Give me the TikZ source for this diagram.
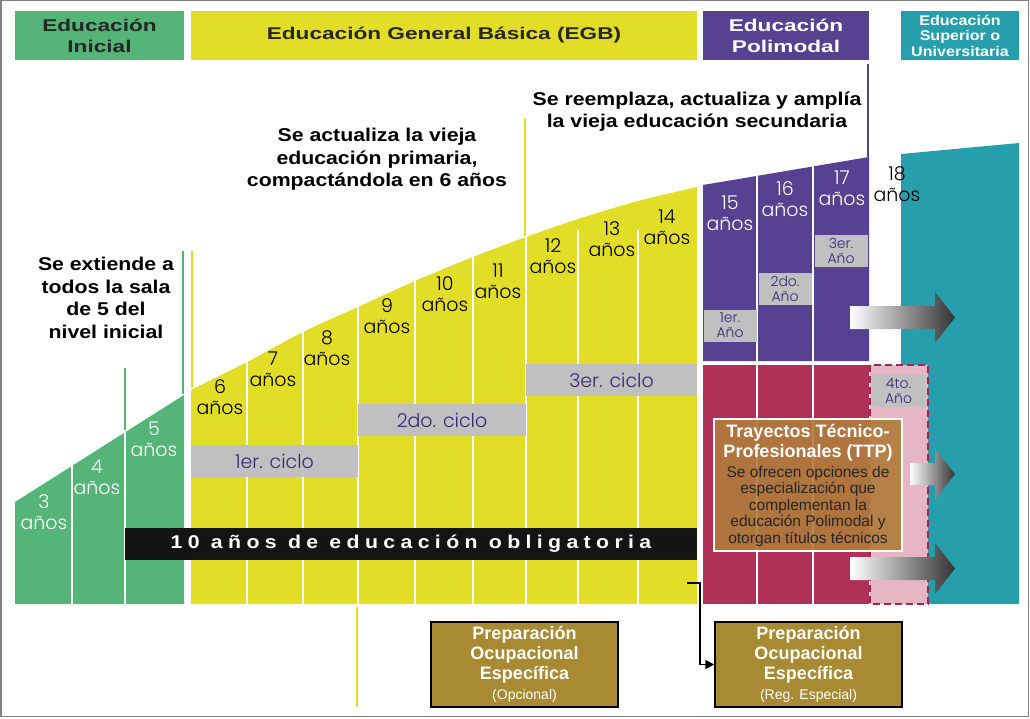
\documentclass[tikz,border=0pt]{standalone}
\usepackage{fontspec}
\setmainfont{Liberation Sans}
\newfontfamily\anchafont{Liberation Sans}[FakeStretch=1.33]
\newfontfamily\notafont{Liberation Sans}[FakeStretch=1.15]
\newfontfamily\barrafont{Liberation Sans}[FakeStretch=1.15,LetterSpace=29]
\newfontfamily\edadfont{Poppins Light}
\usetikzlibrary{arrows.meta}
\definecolor{inicial}{RGB}{85,180,120}
\definecolor{egb}{RGB}{226,222,40}
\definecolor{polimodal}{RGB}{86,66,144}
\definecolor{superior}{RGB}{38,158,172}
\definecolor{ttp}{RGB}{176,48,88}
\definecolor{gris}{RGB}{192,192,192}
\definecolor{azul}{RGB}{50,40,120}
\definecolor{cuarto}{RGB}{230,182,196}
\definecolor{borde}{RGB}{160,40,80}
\definecolor{oro}{RGB}{168,138,50}
\definecolor{marron}{RGB}{176,124,60}
\begin{document}
\begin{tikzpicture}[x=1pt,y=-1pt,
  cabecera/.style={inner sep=0pt, align=center, minimum height=49pt, font=\anchafont\bfseries\fontsize{17}{21}\selectfont},
  nota/.style={align=center, inner sep=0pt, font=\notafont\bfseries\fontsize{18.5}{22.7}\selectfont},
  edad/.style={align=center, inner sep=0pt, font=\edadfont\fontsize{19}{21}\selectfont},
  ciclo/.style={fill=gris, text=azul, inner sep=0pt, minimum height=32pt, font=\edadfont\fontsize{19}{20}\selectfont},
  anio/.style={fill=gris, text=azul, inner sep=0pt, align=center, minimum width=53pt, minimum height=32pt, font=\edadfont\fontsize{14}{15}\selectfont},
  divisor/.style={white, line width=2pt},
  guia/.style={line width=2pt},
  flecha/.style={left color=white, right color=black!80},
  poe/.style={fill=oro, draw=black, line width=1.5pt, minimum width=187pt, minimum height=85pt, inner sep=0pt, align=center, text=white, font=\bfseries\fontsize{18}{20}\selectfont}]
\useasboundingbox (0,0) rectangle (1030,719);
\draw[gray, line width=1.5pt] (0.75,0.75) rectangle (1028.5,716.5);

\node[cabecera, fill=inicial, minimum width=169pt, text=black!85] (hinicial) at (99.5,35.5) {Educación\\Inicial};
\node[cabecera, fill=egb, minimum width=506pt, text=black!85] (hegb) at (444,35.5) {Educación General Básica (EGB)};
\node[cabecera, fill=polimodal, minimum width=166pt, text=white] (hpolimodal) at (786,35.5) {Educación\\Polimodal};
\node[cabecera, fill=superior, minimum width=118pt, text=white, font=\notafont\bfseries\fontsize{14}{15.5}\selectfont] (hsuperior) at (960,35.5) {Educación\\Superior o\\Universitaria};

\fill[inicial] (15,502) -- (184,395) -- (184,604) -- (15,604) -- cycle;
\fill[egb] (191,604) -- plot[smooth] coordinates {(191,390) (247,362) (303,332) (358,307) (415,281) (473,257) (526,237) (578,219) (638,201) (697,187)} -- (697,604) -- cycle;
\fill[polimodal] (703,185) -- (869,157) -- (869,361) -- (703,361) -- cycle;
\fill[ttp] (703,365) rectangle (869,604);
\fill[superior] (901,154) -- (1019,143) -- (1019,604) -- (901,604) -- cycle;

\foreach \x in {72,125} \draw[divisor] (\x,420) -- (\x,604);
\foreach \x in {247,303,358,415,473,526,578,638} \draw[divisor] (\x,230) -- (\x,604);
\foreach \x in {757,813} \draw[divisor] (\x,150) -- (\x,604);

\node[ciclo, minimum width=167pt] (ciclo1) at (274.5,461) {1er. ciclo};
\node[ciclo, minimum width=168pt] (ciclo2) at (442,420) {2do. ciclo};
\node[ciclo, minimum width=171pt] (ciclo3) at (611.5,380) {3er. ciclo};
\node[anio] (anio1) at (730,325.5) {1er.\\Año};
\node[anio] (anio2) at (785,288.5) {2do.\\Año};
\node[anio] (anio3) at (841,251) {3er.\\Año};

\fill[cuarto] (870,365) rectangle (928,604);
\draw[borde, line width=2pt, dash pattern=on 7pt off 4pt] (870,365) rectangle (928,604);
\node[anio] (anio4) at (898.5,391) {4to.\\Año};

\node[fill=black!92, minimum width=572pt, minimum height=32pt, inner sep=0pt, text=white, font=\barrafont\bfseries\fontsize{18.5}{20}\selectfont] (obligatoria) at (411,544) {10 años de educación obligatoria};

\node[fill=marron, fill opacity=0.9, draw=white, line width=1.5pt, minimum width=188pt, minimum height=132pt] (ttpcaja) at (808,485) {};
\node[align=center, inner sep=0pt, text=white, font=\bfseries\fontsize{18}{20}\selectfont] (ttptitulo) at (808,443) {Trayectos Técnico-\\Profesionales (TTP)};
\node[align=center, inner sep=0pt, text=black!85, font=\fontsize{15.5}{16.5}\selectfont] (ttptexto) at (808,506) {Se ofrecen opciones de\\especialización que\\complementan la\\educación Polimodal y\\otorgan títulos técnicos};

\shade[flecha] (850,306) -- (935,306) -- (935,292) -- (955,317.5) -- (935,343) -- (935,329) -- (850,329) -- cycle;
\shade[flecha] (910,463) -- (935,463) -- (935,449) -- (955,474) -- (935,500) -- (935,485) -- (910,485) -- cycle;
\shade[flecha] (850,557) -- (935,557) -- (935,543) -- (955,568.5) -- (935,594) -- (935,580) -- (850,580) -- cycle;

\draw[guia, inicial] (125,368) -- (125,430);
\draw[guia, inicial] (183,251) -- (183,394);
\draw[guia, egb] (192,251) -- (192,388);
\draw[guia, egb] (525,118) -- (525,236);
\draw[guia, polimodal] (868,64) -- (868,157);
\draw[guia, egb] (357,607) -- (357,707);

\foreach \n/\x/\y/\c in {3/44/512/white,4/97/477.5/white,5/154/439/white,6/220/397.5/black,7/273/369.5/black,8/327/348/black,9/387/316/black,10/445/294/black,11/498/281/black,12/553/256/black,13/612/239.5/black,14/667/227/black,15/730/213.5/white,16/785/199/white,17/842/188.5/white,18/897/184/black}
  \node[edad, text=\c] (edad\n) at (\x,\y) {\n\\años};

\node[nota] (notainicial) at (106,298) {Se extiende a\\todos la sala\\de 5 del\\nivel inicial};
\node[nota] (notaegb) at (377,159.5) {Se actualiza la vieja\\educación primaria,\\compactándola en 6 años};
\node[nota] (notapolimodal) at (697,111.5) {Se reemplaza, actualiza y amplía\\la vieja educación secundaria};

\node[poe] (poe1) at (524.5,664.5) {Preparación\\Ocupacional\\Específica\\{\mdseries\fontsize{14}{16}\selectfont (Opcional)}};
\node[poe] (poe2) at (808.5,664.5) {Preparación\\Ocupacional\\Específica\\{\mdseries\fontsize{14}{16}\selectfont (Reg. Especial)}};

\coordinate (salida) at (687,583);
\draw[line width=1.5pt, -{Triangle[length=9pt,width=9pt]}] (salida) -- ++(13,0) |- (poe2.west);
\end{tikzpicture}
\end{document}
